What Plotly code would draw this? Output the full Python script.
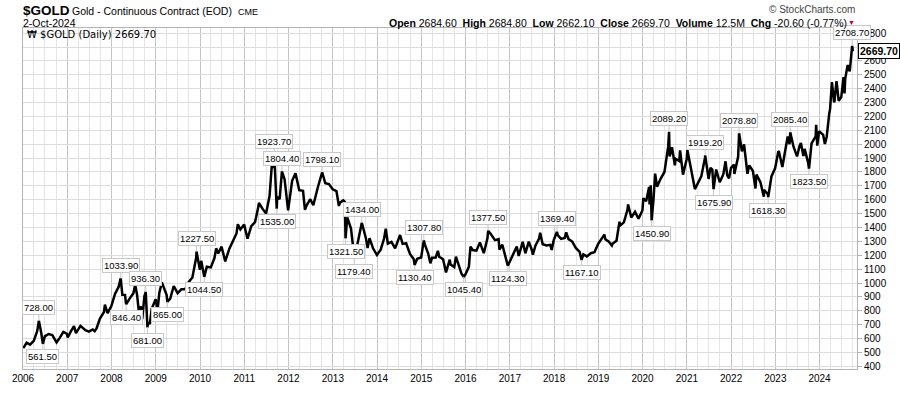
import plotly.graph_objects as go

# ---------------- data ----------------
dates = [
    "2006-01-03", "2006-01-31", "2006-02-28", "2006-03-31", "2006-04-28", "2006-05-12", "2006-05-31",
    "2006-06-14", "2006-06-30", "2006-07-31", "2006-08-31", "2006-10-05", "2006-10-31", "2006-11-30", "2006-12-29",
    "2007-01-05", "2007-01-31", "2007-02-26", "2007-03-14", "2007-03-30", "2007-04-20", "2007-05-31", "2007-06-29",
    "2007-07-31", "2007-08-16", "2007-08-31", "2007-09-28", "2007-10-31", "2007-11-08", "2007-11-30", "2007-12-31",
    "2008-01-31", "2008-02-29", "2008-03-17", "2008-03-31", "2008-04-22", "2008-05-01", "2008-05-30", "2008-06-30",
    "2008-07-15", "2008-07-31", "2008-08-15", "2008-08-29", "2008-09-11", "2008-09-29", "2008-10-10", "2008-10-24",
    "2008-10-31", "2008-11-13", "2008-11-28", "2008-12-31",
    "2009-01-15", "2009-01-30", "2009-02-20", "2009-03-31", "2009-04-06", "2009-04-30", "2009-05-29", "2009-06-30",
    "2009-07-31", "2009-08-31", "2009-09-30", "2009-10-30", "2009-11-30", "2009-12-03", "2009-12-31",
    "2010-01-11", "2010-02-05", "2010-02-26", "2010-03-31", "2010-04-30", "2010-05-14", "2010-05-31", "2010-06-28",
    "2010-07-28", "2010-08-31", "2010-09-30", "2010-10-29", "2010-11-09", "2010-11-30", "2010-12-31",
    "2011-01-28", "2011-02-28", "2011-03-31", "2011-04-29", "2011-05-02", "2011-05-31", "2011-06-30", "2011-07-29",
    "2011-08-22", "2011-08-31", "2011-09-06", "2011-09-26", "2011-09-30", "2011-10-20", "2011-10-31", "2011-11-08",
    "2011-11-30", "2011-12-29",
    "2012-01-31", "2012-02-28", "2012-03-30", "2012-04-30", "2012-05-16", "2012-05-31", "2012-06-29", "2012-07-24",
    "2012-08-31", "2012-09-28", "2012-10-05", "2012-10-31", "2012-11-30", "2012-12-31",
    "2013-01-31", "2013-02-20", "2013-02-28", "2013-03-28", "2013-04-10", "2013-04-16", "2013-04-30", "2013-05-31",
    "2013-06-28", "2013-07-31", "2013-08-28", "2013-09-30", "2013-10-15", "2013-10-31", "2013-11-29", "2013-12-31",
    "2014-01-31", "2014-02-28", "2014-03-14", "2014-03-31", "2014-04-30", "2014-05-30", "2014-06-30", "2014-07-10",
    "2014-07-31", "2014-08-29", "2014-09-30", "2014-10-31", "2014-11-07", "2014-11-28", "2014-12-31",
    "2015-01-22", "2015-01-30", "2015-02-27", "2015-03-17", "2015-03-31", "2015-04-30", "2015-05-18", "2015-05-29",
    "2015-06-30", "2015-07-24", "2015-07-31", "2015-08-24", "2015-08-31", "2015-09-30", "2015-10-14", "2015-10-30",
    "2015-11-30", "2015-12-17", "2015-12-31",
    "2016-01-29", "2016-02-11", "2016-02-29", "2016-03-31", "2016-04-29", "2016-05-31", "2016-06-30", "2016-07-06",
    "2016-07-29", "2016-08-31", "2016-09-30", "2016-10-07", "2016-10-31", "2016-11-30", "2016-12-15", "2016-12-30",
    "2017-01-31", "2017-02-27", "2017-03-15", "2017-03-31", "2017-04-17", "2017-05-09", "2017-05-31", "2017-06-06",
    "2017-06-30", "2017-07-10", "2017-07-31", "2017-08-31", "2017-09-08", "2017-09-29", "2017-10-31", "2017-11-30",
    "2017-12-12", "2017-12-29",
    "2018-01-25", "2018-01-31", "2018-02-28", "2018-03-30", "2018-04-11", "2018-04-30", "2018-05-31", "2018-06-29",
    "2018-07-31", "2018-08-16", "2018-08-31", "2018-09-28", "2018-10-31", "2018-11-30", "2018-12-31",
    "2019-01-31", "2019-02-20", "2019-02-28", "2019-03-29", "2019-04-23", "2019-04-30", "2019-05-31", "2019-06-25",
    "2019-06-28", "2019-07-31", "2019-08-30", "2019-09-04", "2019-09-30", "2019-10-31", "2019-11-29", "2019-12-31",
    "2020-01-08", "2020-01-31", "2020-02-24", "2020-02-28", "2020-03-09", "2020-03-16", "2020-03-31", "2020-04-14",
    "2020-04-30", "2020-05-29", "2020-06-30", "2020-07-31", "2020-08-07", "2020-08-12", "2020-08-31", "2020-09-24",
    "2020-09-30", "2020-10-30", "2020-11-06", "2020-11-30", "2020-12-31",
    "2021-01-05", "2021-01-29", "2021-02-26", "2021-03-08", "2021-03-31", "2021-04-30", "2021-05-31", "2021-06-01",
    "2021-06-29", "2021-07-15", "2021-07-30", "2021-08-09", "2021-08-31", "2021-09-29", "2021-10-29", "2021-11-16",
    "2021-11-30", "2021-12-15", "2021-12-31",
    "2022-01-25", "2022-01-28", "2022-02-28", "2022-03-08", "2022-03-31", "2022-04-18", "2022-04-29", "2022-05-16",
    "2022-05-31", "2022-06-30", "2022-07-21", "2022-07-29", "2022-08-31", "2022-09-28", "2022-09-30", "2022-10-31",
    "2022-11-03", "2022-11-30", "2022-12-30",
    "2023-01-26", "2023-01-31", "2023-02-28", "2023-03-31", "2023-04-13", "2023-04-28", "2023-05-04", "2023-05-31",
    "2023-06-29", "2023-07-20", "2023-07-31", "2023-08-21", "2023-08-31", "2023-09-29", "2023-10-06", "2023-10-27",
    "2023-11-30", "2023-12-04", "2023-12-13", "2023-12-28",
    "2024-01-31", "2024-02-14", "2024-02-29", "2024-03-21", "2024-03-28", "2024-04-12", "2024-04-30", "2024-05-03",
    "2024-05-20", "2024-05-31", "2024-06-07", "2024-06-28", "2024-07-17", "2024-07-25", "2024-07-31", "2024-08-20",
    "2024-08-30", "2024-09-06", "2024-09-26", "2024-10-02",
]
prices = [
    531, 570, 556, 584, 654, 728.0, 644,
    561.5, 616, 633, 625, 573, 605, 648, 635,
    608, 652, 690, 640, 663, 692, 660, 650,
    666, 654, 673, 744, 791, 845, 783, 834,
    923, 972, 1033.9, 916, 915, 846.4, 888, 927,
    988, 912, 786, 833, 740, 905, 936.3, 681.0,
    718, 705, 815, 884,
    800, 928, 1005, 916, 865.0, 888, 979, 927,
    955, 955, 1008, 1040, 1182, 1227.5, 1096,
    1160, 1044.5, 1118, 1113, 1180, 1250, 1213, 1262,
    1156, 1248, 1307, 1357, 1424, 1386, 1421,
    1319, 1410, 1439, 1556, 1577, 1536, 1500, 1628,
    1912, 1828, 1923.7, 1535.0, 1620, 1604, 1725, 1804.4,
    1746, 1523,
    1737, 1790, 1669, 1664, 1527, 1561, 1604, 1560,
    1692, 1776, 1798.1, 1719, 1713, 1675,
    1663, 1555, 1578, 1595, 1585, 1321.5, 1472, 1393,
    1179.4, 1313, 1434.0, 1327, 1252, 1323, 1250, 1202,
    1240, 1321, 1392, 1284, 1296, 1250, 1322, 1346,
    1282, 1287, 1210, 1171, 1130.4, 1175, 1184,
    1307.8, 1279, 1213, 1142, 1183, 1184, 1232, 1190,
    1172, 1077, 1095, 1168, 1133, 1115, 1190, 1142,
    1065, 1045.4, 1061,
    1118, 1263, 1238, 1233, 1293, 1215, 1322, 1377.5,
    1351, 1309, 1316, 1241, 1276, 1174, 1124.3, 1152,
    1211, 1264, 1195, 1249, 1297, 1214, 1268, 1298,
    1242, 1205, 1269, 1322, 1362, 1280, 1271, 1275,
    1238, 1309,
    1369.4, 1345, 1318, 1325, 1365, 1316, 1299, 1253,
    1224, 1167.1, 1206, 1192, 1215, 1222, 1282,
    1325, 1349, 1316, 1298, 1270, 1284, 1305, 1442,
    1413, 1437, 1529, 1566, 1472, 1513, 1464, 1523,
    1611, 1589, 1691, 1566, 1704, 1450.9, 1597, 1788,
    1694, 1751, 1800, 1986, 2089.2, 1911, 1978, 1848,
    1895, 1879, 1955, 1781, 1895,
    1959, 1850, 1728, 1677, 1716, 1768, 1905, 1919.2,
    1750, 1830, 1818, 1675.9, 1818, 1726, 1784, 1877,
    1776, 1755, 1829,
    1853, 1786, 1909, 2078.8, 1949, 1998, 1911, 1787,
    1848, 1807, 1681, 1782, 1726, 1622, 1672, 1640,
    1618.3, 1768, 1826,
    1949, 1945, 1836, 1986, 2055, 2000, 2085.4, 1982,
    1912, 1987, 2009, 1915, 1966, 1866, 1823.5, 2006,
    2057, 2140, 1990, 2093,
    2067, 2002, 2054, 2222, 2254, 2448, 2302, 2310,
    2454, 2346, 2312, 2339, 2483, 2365, 2473, 2570,
    2537, 2524, 2708.7, 2669.7,
]

# labelled highs and lows
high_dates = ["2006-05-12", "2008-03-17", "2008-10-10", "2009-12-03", "2011-09-06", "2011-11-08",
              "2012-10-05", "2013-08-28", "2015-01-22", "2016-07-06", "2018-01-25", "2020-08-07",
              "2021-06-01", "2022-03-08", "2023-05-04", "2024-09-26"]
high_values = [728.00, 1033.90, 936.30, 1227.50, 1923.70, 1804.40, 1798.10, 1434.00, 1307.80,
               1377.50, 1369.40, 2089.20, 1919.20, 2078.80, 2085.40, 2708.70]
low_dates = ["2006-06-14", "2008-05-01", "2008-10-24", "2009-04-06", "2010-02-05", "2011-09-26",
             "2013-04-16", "2013-06-28", "2014-11-07", "2015-12-17", "2016-12-15", "2018-08-16",
             "2020-03-16", "2021-08-09", "2022-11-03", "2023-10-06"]
low_values = [561.50, 846.40, 681.00, 865.00, 1044.50, 1535.00, 1321.50, 1179.40, 1130.40,
              1045.40, 1124.30, 1167.10, 1450.90, 1675.90, 1618.30, 1823.50]

symbol = "$GOLD"
title_text = "Gold - Continuous Contract (EOD)"
exchange = "CME"
as_of = "2-Oct-2024"
quote_open, quote_high, quote_low, quote_close = "2684.60", "2684.80", "2662.10", "2669.70"
quote_volume = "12.5M"
quote_chg = "-20.60 (-0.77%)"
last_close = 2669.70

# ---------------- layout helpers ----------------
W, H = 900, 396
PL, PR, PT, PB = 16, 857, 28, 380  # plot area in pixels


def px(x, y):
    return (x - PL) / (PR - PL), (PB - y) / (PB - PT)


FONT = "Liberation Sans, Arial, sans-serif"

fig = go.Figure()
fig.add_trace(go.Scatter(x=dates, y=prices, mode="lines",
                         line=dict(color="#000000", width=2.5), hoverinfo="skip"))

annotations = []
for d, v in zip(high_dates, high_values):
    annotations.append(dict(x=d, y=v, xref="x", yref="y", text=f"{v:.2f}", showarrow=True,
                            ax=0, ay=-13, arrowhead=0, arrowwidth=1, arrowcolor="#c8c8c8",
                            bordercolor="#c8c8c8", borderwidth=1, borderpad=1, bgcolor="#ffffff",
                            font=dict(family=FONT, size=9.5, color="#000")))
for d, v in zip(low_dates, low_values):
    annotations.append(dict(x=d, y=v, xref="x", yref="y", text=f"{v:.2f}", showarrow=True,
                            ax=0, ay=13, arrowhead=0, arrowwidth=1, arrowcolor="#c8c8c8",
                            bordercolor="#c8c8c8", borderwidth=1, borderpad=1, bgcolor="#ffffff",
                            font=dict(family=FONT, size=9.5, color="#000")))

# last price tag
annotations.append(dict(x=px(858, 0)[0], y=last_close, xref="paper", yref="y", xanchor="left",
                        text=f"<b>{last_close:.2f}</b>", showarrow=False, bordercolor="#000",
                        borderwidth=1, borderpad=1, bgcolor="#fff",
                        font=dict(family=FONT, size=10.5, color="#000")))


# header texts
def hdr(x, y, text, size, anchor="left", color="#000", family=FONT):
    xp, yp = px(x, y)
    annotations.append(dict(x=xp, y=yp, xref="paper", yref="paper", xanchor=anchor, yanchor="middle",
                            text=text, showarrow=False, font=dict(family=family, size=size, color=color)))


hdr(14, 10, f"<b>{symbol}</b>", 13.5)
hdr(63, 10.5, title_text, 10.5)
hdr(231, 11, exchange, 9)
hdr(14, 22.5, as_of, 10.5)
hdr(849, 22.5,
    f"<b>Open</b> {quote_open}  <b>High</b> {quote_high}  <b>Low</b> {quote_low}  "
    f"<b>Close</b> {quote_close}  <b>Volume</b> {quote_volume}  <b>Chg</b> {quote_chg}",
    10.5, anchor="right")
hdr(857, 22, "▼", 7, anchor="right", color="#c0003c")
hdr(857, 9, "© StockCharts.com", 10, anchor="right", color="#444")
hdr(18, 35, f"₩ {symbol} (Daily) {last_close:.2f}", 10, family="DejaVu Sans, sans-serif")

fig.update_layout(
    width=W, height=H,
    margin=dict(l=PL, r=W - PR, t=PT, b=H - PB, pad=0),
    paper_bgcolor="#ffffff", plot_bgcolor="#ffffff",
    showlegend=False,
    annotations=annotations,
    font=dict(family=FONT, size=10, color="#000"),
    xaxis=dict(type="date", range=["2006-01-01", "2024-11-05"], dtick="M12", tick0="2006-01-01",
               tickformat="%Y", showgrid=True, gridcolor="#c4c4c4", gridwidth=1,
               minor=dict(dtick="M3", showgrid=True, gridcolor="#e4e4e4", gridwidth=1),
               showline=True, linecolor="#b4b4b4", mirror=True, ticks="", zeroline=False,
               tickfont=dict(family=FONT, size=10, color="#000")),
    yaxis=dict(side="right", range=[381, 2837], dtick=100, tick0=0, showgrid=True,
               gridcolor="#dcdcdc", gridwidth=1, showline=True, linecolor="#b4b4b4", mirror=True,
               ticks="outside", ticklen=4, tickcolor="#b4b4b4", zeroline=False,
               tickfont=dict(family=FONT, size=10, color="#000")),
)

fig.write_html("out.html", config={"displayModeBar": False},
               post_script="document.body.style.margin='0';document.body.style.overflow='hidden';")
